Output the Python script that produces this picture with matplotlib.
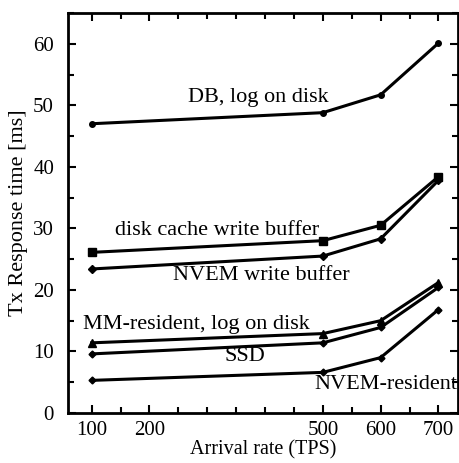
import matplotlib
matplotlib.use("Agg")
import matplotlib.pyplot as plt
from matplotlib.ticker import MultipleLocator, FixedLocator

plt.rcParams['font.family'] = ['Liberation Serif', 'DejaVu Serif']

rates = [100, 500, 600, 700]
db_log_disk = [47.0, 48.8, 51.7, 60.1]
disk_cache_wb = [26.1, 28.0, 30.5, 38.4]
nvem_wb = [23.4, 25.5, 28.3, 37.8]
mm_resident = [11.4, 12.9, 15.0, 21.2]
ssd = [9.6, 11.4, 13.9, 20.4]
nvem_resident = [5.3, 6.6, 9.0, 16.8]

x_tick_labels = [100, 200, 500, 600, 700]

series = [
    (db_log_disk, 'o', 4, "DB, log on disk", (389, 51.2)),
    (disk_cache_wb, 's', 6, "disk cache write buffer", (317, 29.6)),
    (nvem_wb, 'D', 4.5, "NVEM write buffer", (393, 22.3)),
    (mm_resident, '^', 6, "MM-resident, log on disk", (282, 14.3)),
    (ssd, 'D', 3.5, "SSD", (365, 9.1)),
    (nvem_resident, 'D', 3.5, "NVEM-resident", (609, 4.6)),
]

fig = plt.figure(figsize=(4.59, 4.63), dpi=100)
ax = fig.add_axes([0.148, 0.108, 0.85, 0.864])

for vals, mk, ms, label, (tx, ty) in series:
    ax.plot(rates, vals, color='black', lw=2.2, marker=mk, markersize=ms)
    ax.text(tx, ty, label, fontsize=16, ha='center', va='center')

ax.set_xlim(59, 734)
ax.set_ylim(0, 65)
ax.xaxis.set_major_locator(FixedLocator(x_tick_labels))
ax.xaxis.set_minor_locator(MultipleLocator(50))
ax.yaxis.set_major_locator(MultipleLocator(10))
ax.yaxis.set_minor_locator(MultipleLocator(5))
ax.tick_params(which='both', direction='in', top=True, right=True, labelsize=15, width=1.5)
ax.tick_params(which='major', length=6)
ax.tick_params(which='minor', length=4)
ax.tick_params(axis='x', pad=6)
ax.tick_params(axis='y', pad=10)
for s in ax.spines.values():
    s.set_linewidth(2)

ax.set_xlabel("Arrival rate (TPS)", fontsize=14.5, labelpad=0)
ax.set_ylabel("Tx Response time [ms]", fontsize=16, labelpad=4)

fig.savefig("out.png", dpi=100)
